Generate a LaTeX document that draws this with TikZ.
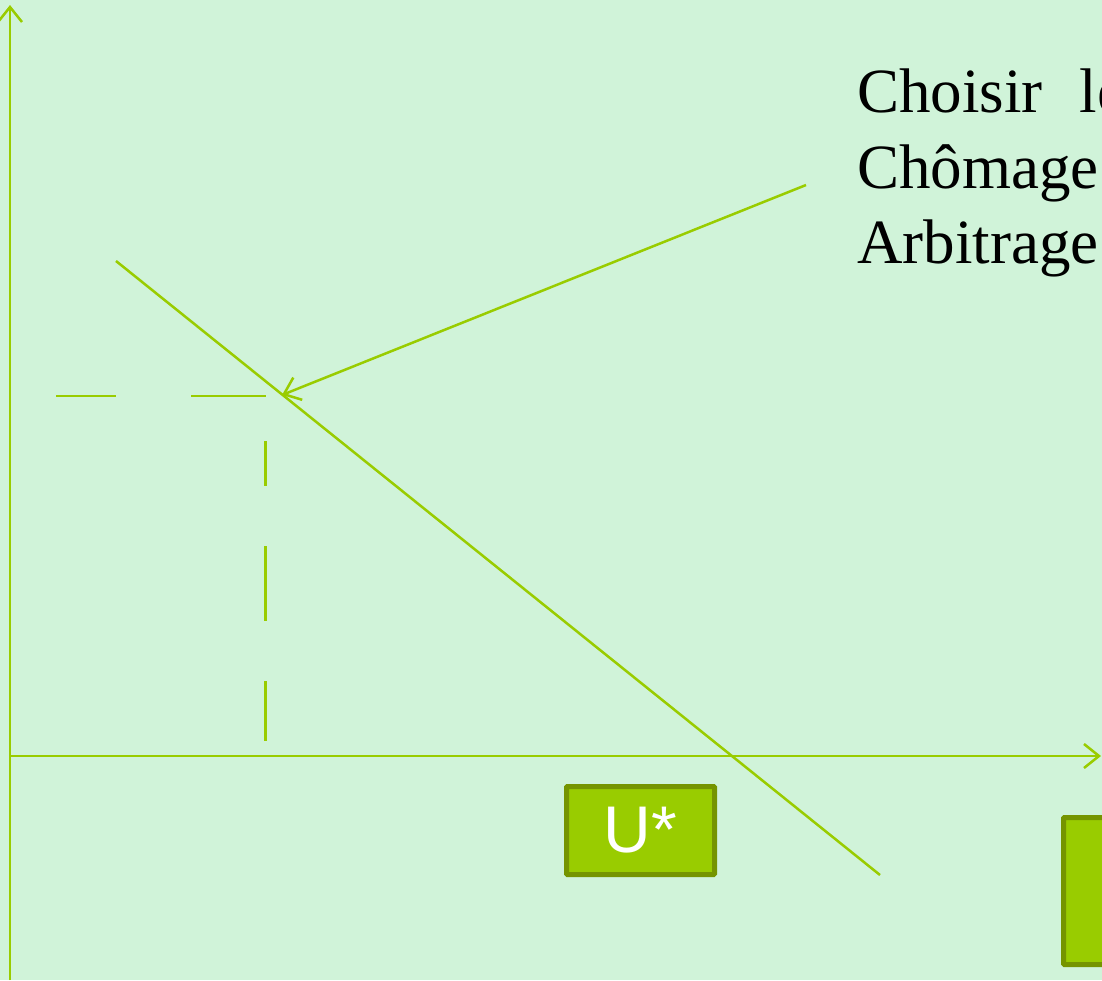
\documentclass[tikz,border=0pt]{standalone}
\usepackage{fontspec}
\setmainfont{Liberation Serif}
\newfontfamily\boxfont{Liberation Sans}
\usetikzlibrary{arrows.meta}
\definecolor{bgc}{RGB}{208,243,217}
\definecolor{lc}{RGB}{153,204,0}
\definecolor{bd}{RGB}{117,148,0}
\begin{document}
\begin{tikzpicture}[x=1pt,y=-1pt,
  gline/.style={draw=lc, line width=2.5pt},
  tipped/.style={gline, -{Straight Barb[length=15pt,width=24pt,line width=2.5pt]}},
  greenbox/.style={draw=bd, fill=lc, line width=5pt, rounded corners=1pt, inner sep=0pt},
  caption/.style={anchor=base west, inner sep=0pt, font=\fontsize{63}{76}\selectfont}]
\clip (0,0) rectangle (1102,980);
\useasboundingbox (0,0) rectangle (1102,980);
\fill[bgc] (0,0) rectangle (1102,980);
% axes
\coordinate (ybot) at (10,980);
\coordinate (ytop) at (10,5);
\coordinate (O) at (10,756);
\coordinate (xend) at (1101,756);
\draw[tipped] (ybot) -- (ytop);
\draw[tipped] (O) -- (xend);
% sloped line
\coordinate (L1) at (116,261);
\coordinate (L2) at (880,875);
\draw[gline] (L1) -- (L2);
\coordinate (P) at (282,395);
% dashed guides
\coordinate (h1) at (56,396);
\coordinate (h2) at (266,396);
\draw[gline, dash pattern=on 75pt off 75pt, dash phase=15pt] (h1) -- (h2);
\coordinate (v1) at (265.5,441);
\coordinate (v2) at (265.5,741);
\draw[gline, dash pattern=on 75pt off 60pt, dash phase=30pt] (v1) -- (v2);
% text
\node[caption] (t1) at (857,112) {Choisir\hspace{37pt}le};
\node[caption] (t2) at (857,188) {Chômage};
\node[caption] (t3) at (857,263) {Arbitrage};
\coordinate (A1) at (806,185);
\draw[tipped] (A1) -- (P);
% boxes
\node[greenbox, minimum width=148pt, minimum height=88pt, text=white,
      font=\boxfont\fontsize{66}{66}\selectfont] (ustar) at (640.5,830.5) {U*};
\node[greenbox, minimum width=150pt, minimum height=147pt, anchor=north west] (rbox) at (1061,815) {};
\end{tikzpicture}
\end{document}
